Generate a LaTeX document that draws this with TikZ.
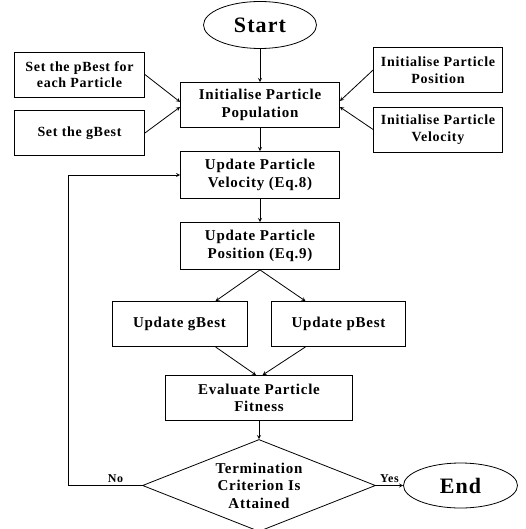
\documentclass[tikz,border=0pt]{standalone}
\usepackage{fontspec}
\setmainfont[LetterSpace=5]{Liberation Serif}
\usepackage{tikz}
\usetikzlibrary{shapes.geometric, arrows}

\begin{document}
\begin{tikzpicture}[node distance=70pt, x=1pt, y=1pt]
	\tikzstyle{startstop} = [ellipse, minimum width=113pt, minimum height=47pt, 
	inner sep=0pt, text centered, draw=black, line width=0.8pt, 
	font=\fontsize{22}{24}\selectfont\bfseries]
	\tikzstyle{process} = [rectangle, minimum width=159pt, minimum height=45pt, 
	text centered, align=center, draw=black, line width=0.8pt, 
	font=\fontsize{15}{17.5}\selectfont\bfseries]
	\tikzstyle{input} = [process, minimum width=130pt, 
	font=\fontsize{14}{16.5}\selectfont\bfseries]
	\tikzstyle{decision} = [diamond, aspect=2.53, minimum width=233pt, 
	minimum height=92pt, inner sep=0pt, align=center, draw=black, 
	line width=0.8pt, font=\fontsize{15}{17.5}\selectfont\bfseries]
	\tikzstyle{arrow} = [line width=0.8pt,->,>=stealth]
	\tikzstyle{answer} = [font=\fontsize{12}{13}\selectfont\bfseries, inner sep=2pt]
	\useasboundingbox (0,0) rectangle (526,-529);
	\node (start) [startstop] at (260,-25) {Start};
	\node (initPop) [process, below of=start, yshift=-10pt] {Initialise Particle\\Population};
	\node (setPBest) [input, left of=initPop, xshift=-110.5pt, yshift=30.5pt] {Set the pBest for\\each Particle};
	\node (setGBest) [input, left of=initPop, xshift=-110.5pt, yshift=-28pt] {Set the gBest};
	\node (initPos) [input, right of=initPop, xshift=108pt, yshift=35pt, minimum width=129pt] {Initialise Particle\\Position};
	\node (initVel) [input, right of=initPop, xshift=108pt, yshift=-24.5pt, minimum width=129pt] {Initialise Particle\\Velocity};
	\node (updVel) [process, below of=initPop, minimum height=47pt] {Update Particle\\Velocity (Eq.8)};
	\node (updPos) [process, below of=updVel, yshift=-1pt, minimum height=47pt] {Update Particle\\Position (Eq.9)};
	\node (updGBest) [process, below of=updPos, xshift=-80.5pt, yshift=-8pt, minimum width=135pt] {Update gBest};
	\node (updPBest) [process, below of=updPos, xshift=78.5pt, yshift=-8pt, minimum width=134pt] {Update pBest};
	\node (evaluate) [process, below of=updPos, xshift=-1pt, yshift=-82pt, minimum width=187pt] {Evaluate Particle\\Fitness};
	\node (criterion) [decision, below of=evaluate, yshift=-17.5pt] {Termination\\Criterion Is\\Attained};
	\node (end) [startstop, right of=criterion, xshift=131.5pt, minimum width=114pt, minimum height=45pt] {End};
	\draw [arrow] (start) -- (initPop);
	\draw [arrow] (setPBest.east) -- ([yshift=3pt]initPop.west);
	\draw [arrow] (setGBest.east) -- ([yshift=-2pt]initPop.west);
	\draw [arrow] (initPos.west) -- ([yshift=4pt]initPop.east);
	\draw [arrow] (initVel.west) -- ([yshift=-2pt]initPop.east);
	\draw [arrow] (initPop) -- (updVel);
	\draw [arrow] (updVel) -- (updPos);
	\draw [arrow] (updPos.south) -- ([xshift=36pt]updGBest.north);
	\draw [arrow] (updPos.south) -- ([xshift=-33pt]updPBest.north);
	\draw [arrow] ([xshift=36pt]updGBest.south) -- ([xshift=-3pt]evaluate.north);
	\draw [arrow] ([xshift=-33pt]updPBest.south) -- ([xshift=3.5pt]evaluate.north);
	\draw [arrow] (evaluate) -- (criterion);
	\draw [arrow] (criterion.east) -- node[answer, above] {Yes} (end.west);
	\draw [arrow] (criterion.west) -- node[answer, above, pos=0.36] {No} ++(-74pt,0) |- (updVel.west);
\end{tikzpicture}
\end{document}
